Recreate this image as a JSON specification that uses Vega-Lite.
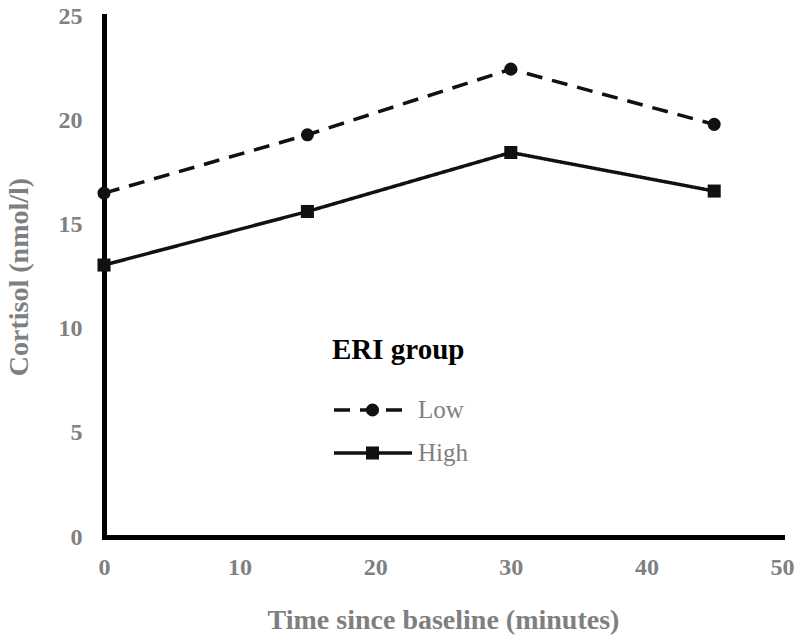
{
  "$schema": "https://vega.github.io/schema/vega-lite/v6.json",
  "width": 678,
  "height": 521,
  "autosize": "none",
  "padding": {"left": 104, "top": 16, "right": 18, "bottom": 105},
  "background": "white",
  "data": {
    "values": [
      {"time": 0, "cortisol": 16.5, "group": "Low", "marker": "Low"},
      {"time": 15, "cortisol": 19.3, "group": "Low", "marker": "Low"},
      {"time": 30, "cortisol": 22.45, "group": "Low", "marker": "Low"},
      {"time": 45, "cortisol": 19.8, "group": "Low", "marker": "Low"},
      {"time": 0, "cortisol": 13.05, "group": "High", "marker": "High"},
      {"time": 15, "cortisol": 15.62, "group": "High", "marker": "High"},
      {"time": 30, "cortisol": 18.45, "group": "High", "marker": "High"},
      {"time": 45, "cortisol": 16.6, "group": "High", "marker": "High"}
    ]
  },
  "encoding": {
    "x": {
      "field": "time",
      "type": "quantitative",
      "scale": {"domain": [0, 50], "nice": false},
      "axis": {
        "title": "Time since baseline (minutes)",
        "values": [0, 10, 20, 30, 40, 50],
        "labelPadding": 18,
        "titlePadding": 27
      }
    },
    "y": {
      "field": "cortisol",
      "type": "quantitative",
      "scale": {"domain": [0, 25], "nice": false},
      "axis": {
        "title": "Cortisol (nmol/l)",
        "values": [0, 5, 10, 15, 20, 25],
        "labelPadding": 22,
        "titlePadding": 25
      }
    }
  },
  "layer": [
    {
      "mark": {"type": "line", "strokeWidth": 3.5, "color": "#111111"},
      "encoding": {
        "strokeDash": {
          "field": "group",
          "type": "nominal",
          "scale": {"domain": ["Low", "High"], "range": [[16, 10], [1, 0]]},
          "legend": {
            "title": "ERI group",
            "orient": "none",
            "legendX": 228,
            "legendY": 320,
            "symbolType": "stroke",
            "symbolSize": 6084,
            "symbolStrokeWidth": 3.5,
            "symbolStrokeColor": "#111111",
            "clipHeight": 30,
            "rowPadding": 13,
            "titlePadding": 30,
            "labelOffset": 4
          }
        }
      }
    },
    {
      "mark": {"type": "point", "filled": true, "color": "#111111", "opacity": 1, "size": 170},
      "encoding": {
        "shape": {
          "field": "marker",
          "type": "nominal",
          "sort": ["Low", "High"],
          "scale": {"range": ["circle", "square"]},
          "legend": {
            "title": null,
            "orient": "none",
            "legendX": 256,
            "legendY": 379,
            "symbolSize": 170,
            "symbolFillColor": "#111111",
            "symbolStrokeWidth": 0,
            "symbolOpacity": 1,
            "clipHeight": 30,
            "rowPadding": 13,
            "labelExpr": "''",
            "labelOffset": 0
          }
        }
      }
    }
  ],
  "config": {
    "view": {"stroke": null},
    "axis": {
      "grid": false,
      "ticks": false,
      "domainColor": "#000000",
      "domainWidth": 5,
      "domainCap": "square",
      "labelFlush": false,
      "labelFont": "Liberation Serif",
      "labelFontSize": 24,
      "labelFontWeight": "bold",
      "labelColor": "#808080",
      "titleFont": "Liberation Serif",
      "titleFontSize": 28,
      "titleFontWeight": "bold",
      "titleColor": "#7f7f7f"
    },
    "legend": {
      "padding": 0,
      "titleFont": "Liberation Serif",
      "titleFontSize": 29,
      "titleFontWeight": "bold",
      "titleColor": "#000000",
      "labelFont": "Liberation Serif",
      "labelFontSize": 25,
      "labelColor": "#808080"
    }
  }
}
